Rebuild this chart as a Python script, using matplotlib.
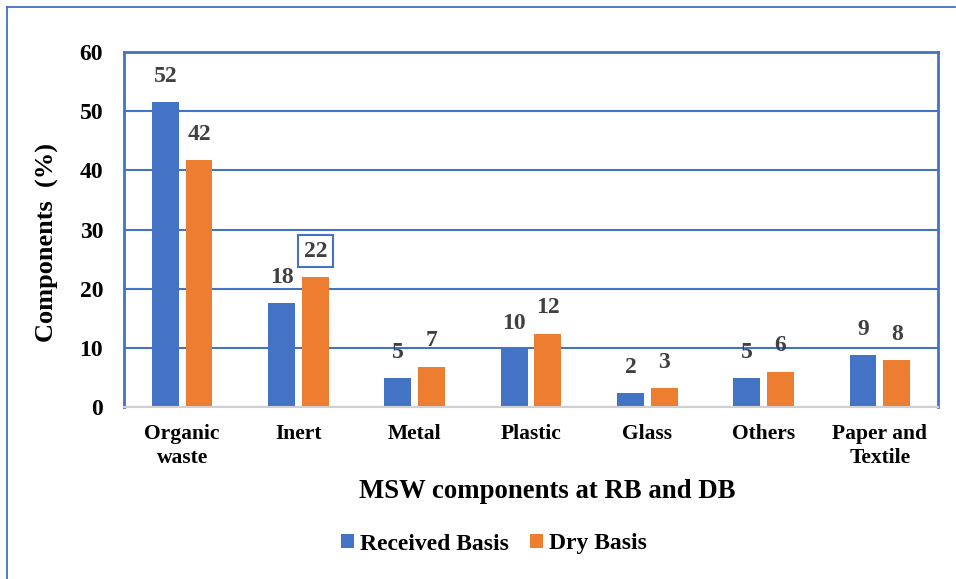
import matplotlib
matplotlib.use("Agg")
import matplotlib.pyplot as plt
import numpy as np
from matplotlib.lines import Line2D

categories = ["Organic\nwaste", "Inert", "Metal", "Plastic", "Glass", "Others", "Paper and\nTextile"]
received_basis = [51.5, 17.5, 4.9, 9.8, 2.4, 4.9, 8.8]
dry_basis = [41.7, 22.0, 6.8, 12.4, 3.2, 6.0, 7.9]
y_ticks = [0, 10, 20, 30, 40, 50, 60]

BLUE = "#4472C4"
ORANGE = "#ED7D31"
LABEL_GRAY = "#404040"

plt.rcParams["font.family"] = ["Liberation Serif", "DejaVu Serif"]
plt.rcParams["font.weight"] = "bold"

fig = plt.figure(figsize=(9.56, 5.79), dpi=100)
ax = fig.add_axes([124 / 956, 1 - 407 / 579, (938 - 124) / 956, (407 - 52) / 579])

x = np.arange(len(categories))
width = 0.23
offset = 0.145
b1 = ax.bar(x - offset, received_basis, width, color=BLUE, label="Received Basis", zorder=3)
b2 = ax.bar(x + offset, dry_basis, width, color=ORANGE, label="Dry Basis", zorder=3)

ax.set_xlim(-0.5, len(categories) - 0.5)
ax.set_ylim(0, 60)
ax.set_yticks(y_ticks)
ax.set_yticklabels([str(t) for t in y_ticks], fontsize=17, fontweight="bold")
ax.set_xticks(x)
ax.set_xticklabels(categories, fontsize=15.5, fontweight="bold", linespacing=1.3)
ax.tick_params(axis="both", length=0)
ax.tick_params(axis="y", pad=15)
ax.tick_params(axis="x", pad=12)

ax.grid(axis="y", color=BLUE, linewidth=1.5, zorder=0)
for side in ["top", "left", "right"]:
    ax.spines[side].set_color(BLUE)
    ax.spines[side].set_linewidth(2)
ax.spines["bottom"].set_color("#D0D0D0")
ax.spines["bottom"].set_linewidth(1.5)
ax.spines["bottom"].set_zorder(4)

# value labels above each bar
for bars, vals, series in [(b1, received_basis, "rb"), (b2, dry_basis, "db")]:
    for i, (rect, v) in enumerate(zip(bars, vals)):
        cx = rect.get_x() + rect.get_width() / 2
        kw = {}
        if series == "db" and i == 1:
            kw["bbox"] = dict(boxstyle="square,pad=0.25", fc="white", ec=BLUE, lw=1.5)
        ax.annotate(f"{v:.0f}", (cx, v), xytext=(0, 11), textcoords="offset points",
                    ha="center", va="bottom", fontsize=17, fontweight="bold",
                    color=LABEL_GRAY, zorder=5, **kw)

fig.text(47 / 956, 1 - 243 / 579, "Components  (%)", rotation=90, ha="center", va="center",
         fontsize=19, fontweight="bold")
fig.text(547 / 956, 1 - 492 / 579, "MSW components at RB and DB", ha="center", va="center",
         fontsize=19.3, fontweight="bold")

leg = fig.legend(handles=[b1, b2], labels=["Received Basis", "Dry Basis"],
                 loc="center", bbox_to_anchor=(494 / 956, 1 - 544 / 579), ncol=2,
                 frameon=False, prop={"family": "Liberation Serif", "weight": "bold", "size": 17},
                 handlelength=0.55, handleheight=0.55, handletextpad=0.25, columnspacing=0.9)

# outer chart-area border (top and left edges)
fig.add_artist(Line2D([7 / 956, 955 / 956], [1 - 7 / 579, 1 - 7 / 579], color=BLUE, lw=1.3,
                      transform=fig.transFigure))
fig.add_artist(Line2D([7 / 956, 7 / 956], [1 - 7 / 579, 0], color=BLUE, lw=1.3,
                      transform=fig.transFigure))

fig.savefig("out.png", dpi=100)
